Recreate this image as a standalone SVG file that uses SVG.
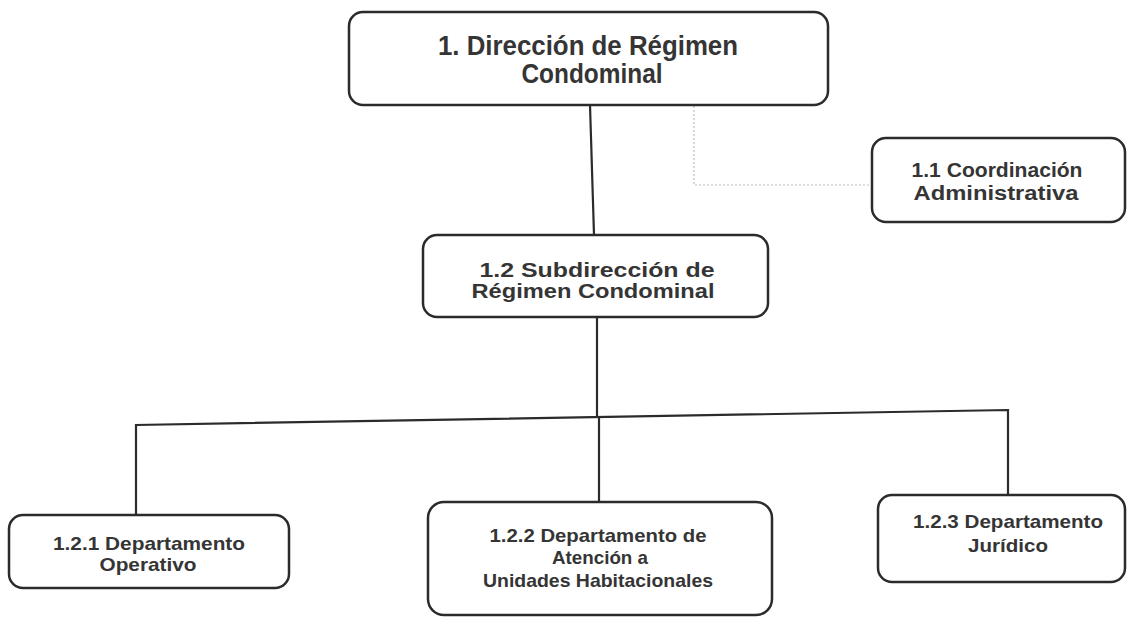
<svg xmlns="http://www.w3.org/2000/svg" width="1132" height="617" viewBox="0 0 1132 617">
<style>
.box{fill:#ffffff;stroke:#2b2b2b;stroke-width:2.5}
.t{font-family:"Liberation Sans",Arial,sans-serif;font-weight:bold;fill:#353535;text-anchor:middle}
.t28{font-size:27px}
.t19{font-size:19px}
.t20{font-size:20px}
.ln{fill:none;stroke:#2b2b2b;stroke-width:2.2}
.dot{fill:none;stroke:#bdbdbd;stroke-width:1.2;stroke-dasharray:2 2}
</style>
<rect width="1132" height="617" fill="#ffffff"/>
<g id="connectors">
<path class="dot" d="M694,106 V185 H871"/>
<path class="ln" d="M590,105 L594,235"/>
<path class="ln" d="M597,317 V417"/>
<path class="ln" d="M136,515 V425 L1008,410 V495"/>
<path class="ln" d="M599,417 V502"/>
</g>
<g id="n1">
<rect class="box" x="349" y="12" width="479" height="93" rx="14"/>
<text class="t t28" x="588" y="54.5" textLength="300" lengthAdjust="spacingAndGlyphs">1. Dirección de Régimen</text>
<text class="t t28" x="592" y="83" textLength="141" lengthAdjust="spacingAndGlyphs">Condominal</text>
</g>
<g id="n1_1">
<rect class="box" x="872" y="138" width="253" height="84" rx="14"/>
<text class="t t20" x="997" y="177" textLength="171" lengthAdjust="spacingAndGlyphs">1.1 Coordinación</text>
<text class="t t20" x="996" y="200" textLength="165" lengthAdjust="spacingAndGlyphs">Administrativa</text>
</g>
<g id="n1_2">
<rect class="box" x="423" y="235" width="345" height="82" rx="14"/>
<text class="t t20" x="597" y="277" textLength="235" lengthAdjust="spacingAndGlyphs">1.2 Subdirección de</text>
<text class="t t20" x="593" y="298" textLength="243" lengthAdjust="spacingAndGlyphs">Régimen Condominal</text>
</g>
<g id="n1_2_1">
<rect class="box" x="9" y="515" width="280" height="73" rx="14"/>
<text class="t t19" x="149" y="550" textLength="192" lengthAdjust="spacingAndGlyphs">1.2.1 Departamento</text>
<text class="t t19" x="148" y="571" textLength="97" lengthAdjust="spacingAndGlyphs">Operativo</text>
</g>
<g id="n1_2_2">
<rect class="box" x="428" y="502" width="344" height="113" rx="16"/>
<text class="t t19" x="598" y="542" textLength="217" lengthAdjust="spacingAndGlyphs">1.2.2 Departamento de</text>
<text class="t t19" x="600" y="564" textLength="96" lengthAdjust="spacingAndGlyphs">Atención a</text>
<text class="t t19" x="598" y="587" textLength="230" lengthAdjust="spacingAndGlyphs">Unidades Habitacionales</text>
</g>
<g id="n1_2_3">
<rect class="box" x="878" y="495" width="247" height="87" rx="14"/>
<text class="t t19" x="1008" y="528" textLength="190" lengthAdjust="spacingAndGlyphs">1.2.3 Departamento</text>
<text class="t t19" x="1008" y="552" textLength="80" lengthAdjust="spacingAndGlyphs">Jurídico</text>
</g>
</svg>
